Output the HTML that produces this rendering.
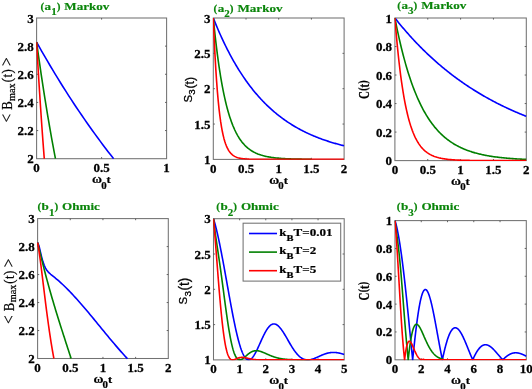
<!DOCTYPE html>
<html><head><meta charset="utf-8"><title>figure</title>
<style>
html,body{margin:0;padding:0;background:#fff;}
svg{display:block}
text{font-family:"Liberation Serif",serif;font-weight:bold;}
</style></head><body>
<svg width="532" height="389" viewBox="0 0 532 389">
<rect width="532" height="389" fill="#fff"/>
<clipPath id="ax1"><rect x="36.25" y="17.65" width="130.70" height="141.40"/></clipPath>
<clipPath id="ax2"><rect x="212.95" y="17.65" width="131.50" height="142.10"/></clipPath>
<clipPath id="ax3"><rect x="394.55" y="17.65" width="132.10" height="143.30"/></clipPath>
<clipPath id="ax4"><rect x="37.25" y="218.25" width="131.40" height="140.60"/></clipPath>
<clipPath id="ax5"><rect x="213.15" y="218.35" width="131.40" height="141.90"/></clipPath>
<clipPath id="ax6"><rect x="394.65" y="220.25" width="132.00" height="139.90"/></clipPath>
<rect x="36.60" y="18.00" width="130.00" height="140.70" fill="none" stroke="#727272" stroke-width="1.05"/>
<path d="M101.60 158.70v-1.6M101.60 18.00v1.6M36.60 130.56h1.6M166.60 130.56h-1.6M36.60 102.42h1.6M166.60 102.42h-1.6M36.60 74.28h1.6M166.60 74.28h-1.6M36.60 46.14h1.6M166.60 46.14h-1.6" stroke="#555" stroke-width="0.9" fill="none"/>
<rect x="213.30" y="18.00" width="130.80" height="141.40" fill="none" stroke="#727272" stroke-width="1.05"/>
<path d="M246.00 159.40v-1.6M246.00 18.00v1.6M278.70 159.40v-1.6M278.70 18.00v1.6M311.40 159.40v-1.6M311.40 18.00v1.6M213.30 124.05h1.6M344.10 124.05h-1.6M213.30 88.70h1.6M344.10 88.70h-1.6M213.30 53.35h1.6M344.10 53.35h-1.6" stroke="#555" stroke-width="0.9" fill="none"/>
<rect x="394.90" y="18.00" width="131.40" height="142.60" fill="none" stroke="#727272" stroke-width="1.05"/>
<path d="M427.75 160.60v-1.6M427.75 18.00v1.6M460.60 160.60v-1.6M460.60 18.00v1.6M493.45 160.60v-1.6M493.45 18.00v1.6M394.90 132.08h1.6M526.30 132.08h-1.6M394.90 103.56h1.6M526.30 103.56h-1.6M394.90 75.04h1.6M526.30 75.04h-1.6M394.90 46.52h1.6M526.30 46.52h-1.6" stroke="#555" stroke-width="0.9" fill="none"/>
<rect x="37.60" y="218.60" width="130.70" height="139.90" fill="none" stroke="#727272" stroke-width="1.05"/>
<path d="M70.28 358.50v-1.6M70.28 218.60v1.6M102.95 358.50v-1.6M102.95 218.60v1.6M135.62 358.50v-1.6M135.62 218.60v1.6M37.60 330.52h1.6M168.30 330.52h-1.6M37.60 302.54h1.6M168.30 302.54h-1.6M37.60 274.56h1.6M168.30 274.56h-1.6M37.60 246.58h1.6M168.30 246.58h-1.6" stroke="#555" stroke-width="0.9" fill="none"/>
<rect x="213.50" y="218.70" width="130.70" height="141.20" fill="none" stroke="#727272" stroke-width="1.05"/>
<path d="M239.64 359.90v-1.6M239.64 218.70v1.6M265.78 359.90v-1.6M265.78 218.70v1.6M291.92 359.90v-1.6M291.92 218.70v1.6M318.06 359.90v-1.6M318.06 218.70v1.6M213.50 324.60h1.6M344.20 324.60h-1.6M213.50 289.30h1.6M344.20 289.30h-1.6M213.50 254.00h1.6M344.20 254.00h-1.6" stroke="#555" stroke-width="0.9" fill="none"/>
<rect x="395.00" y="220.60" width="131.30" height="139.20" fill="none" stroke="#727272" stroke-width="1.05"/>
<path d="M421.26 359.80v-1.6M421.26 220.60v1.6M447.52 359.80v-1.6M447.52 220.60v1.6M473.78 359.80v-1.6M473.78 220.60v1.6M500.04 359.80v-1.6M500.04 220.60v1.6M395.00 331.96h1.6M526.30 331.96h-1.6M395.00 304.12h1.6M526.30 304.12h-1.6M395.00 276.28h1.6M526.30 276.28h-1.6M395.00 248.44h1.6M526.30 248.44h-1.6" stroke="#555" stroke-width="0.9" fill="none"/>
<polyline points="36.60,42.14 39.26,46.87 41.91,51.54 44.57,56.16 47.22,60.72 49.88,65.22 52.53,69.68 55.19,74.08 57.85,78.43 60.50,82.72 63.16,86.97 65.81,91.16 68.47,95.31 71.12,99.40 73.78,103.45 76.44,107.45 79.09,111.40 81.75,115.31 84.40,119.17 87.06,122.98 89.71,126.75 92.37,130.47 95.03,134.15 97.68,137.78 100.34,141.37 102.99,144.92 105.65,148.43 108.30,151.89 110.96,155.32 113.62,158.70" fill="none" stroke="#0000ff" stroke-width="1.6" stroke-linejoin="round" clip-path="url(#ax1)"/>
<polyline points="36.60,42.14 37.25,46.87 37.90,51.54 38.55,56.16 39.20,60.72 39.85,65.22 40.50,69.68 41.15,74.08 41.80,78.43 42.45,82.72 43.10,86.97 43.75,91.16 44.41,95.31 45.06,99.40 45.71,103.45 46.36,107.45 47.01,111.40 47.66,115.31 48.31,119.17 48.96,122.98 49.61,126.75 50.26,130.47 50.91,134.15 51.56,137.78 52.21,141.37 52.86,144.92 53.51,148.43 54.16,151.89 54.81,155.32 55.46,158.70" fill="none" stroke="#008000" stroke-width="1.6" stroke-linejoin="round" clip-path="url(#ax1)"/>
<polyline points="36.60,42.14 36.86,46.87 37.13,51.54 37.39,56.16 37.66,60.72 37.92,65.22 38.19,69.68 38.45,74.08 38.72,78.43 38.98,82.72 39.25,86.97 39.51,91.16 39.78,95.31 40.04,99.40 40.31,103.45 40.57,107.45 40.84,111.40 41.10,115.31 41.36,119.17 41.63,122.98 41.89,126.75 42.16,130.47 42.42,134.15 42.69,137.78 42.95,141.37 43.22,144.92 43.48,148.43 43.75,151.89 44.01,155.32 44.28,158.70" fill="none" stroke="#ff0000" stroke-width="1.6" stroke-linejoin="round" clip-path="url(#ax1)"/>
<polyline points="213.30,18.00 214.12,20.07 214.95,22.10 215.77,24.11 216.59,26.08 217.41,28.03 218.24,29.95 219.06,31.84 219.88,33.71 220.70,35.54 221.53,37.35 222.35,39.13 223.17,40.89 223.99,42.62 224.82,44.33 225.64,46.01 226.46,47.67 227.28,49.30 228.11,50.91 228.93,52.49 229.75,54.05 230.58,55.59 231.40,57.11 232.22,58.60 233.04,60.08 233.87,61.53 234.69,62.96 235.51,64.37 236.33,65.75 237.16,67.12 237.98,68.47 238.80,69.80 239.62,71.11 240.45,72.40 241.27,73.67 242.09,74.92 242.92,76.16 243.74,77.37 244.56,78.57 245.38,79.75 246.21,80.91 247.03,82.06 247.85,83.19 248.67,84.30 249.50,85.40 250.32,86.48 251.14,87.55 251.96,88.60 252.79,89.63 253.61,90.65 254.43,91.66 255.25,92.65 256.08,93.62 256.90,94.58 257.72,95.53 258.55,96.46 259.37,97.38 260.19,98.29 261.01,99.18 261.84,100.06 262.66,100.93 263.48,101.78 264.30,102.62 265.13,103.45 265.95,104.27 266.77,105.07 267.59,105.87 268.42,106.65 269.24,107.42 270.06,108.18 270.88,108.93 271.71,109.67 272.53,110.39 273.35,111.11 274.18,111.81 275.00,112.51 275.82,113.19 276.64,113.87 277.47,114.53 278.29,115.19 279.11,115.84 279.93,116.47 280.76,117.10 281.58,117.72 282.40,118.33 283.22,118.93 284.05,119.52 284.87,120.10 285.69,120.67 286.52,121.24 287.34,121.80 288.16,122.35 288.98,122.89 289.81,123.42 290.63,123.95 291.45,124.47 292.27,124.98 293.10,125.48 293.92,125.97 294.74,126.46 295.56,126.94 296.39,127.42 297.21,127.89 298.03,128.35 298.85,128.80 299.68,129.25 300.50,129.69 301.32,130.12 302.15,130.55 302.97,130.97 303.79,131.39 304.61,131.79 305.44,132.20 306.26,132.60 307.08,132.99 307.90,133.37 308.73,133.75 309.55,134.13 310.37,134.50 311.19,134.86 312.02,135.22 312.84,135.57 313.66,135.92 314.48,136.26 315.31,136.60 316.13,136.93 316.95,137.26 317.78,137.59 318.60,137.91 319.42,138.22 320.24,138.53 321.07,138.83 321.89,139.13 322.71,139.43 323.53,139.72 324.36,140.01 325.18,140.29 326.00,140.57 326.82,140.85 327.65,141.12 328.47,141.38 329.29,141.65 330.12,141.91 330.94,142.16 331.76,142.41 332.58,142.66 333.41,142.91 334.23,143.15 335.05,143.39 335.87,143.62 336.70,143.85 337.52,144.08 338.34,144.30 339.16,144.52 339.99,144.74 340.81,144.95 341.63,145.16 342.45,145.37 343.28,145.58 344.10,145.78" fill="none" stroke="#0000ff" stroke-width="1.6" stroke-linejoin="round" clip-path="url(#ax2)"/>
<polyline points="213.30,18.00 214.12,26.25 214.95,34.01 215.77,41.32 216.59,48.21 217.41,54.70 218.24,60.80 219.06,66.55 219.88,71.97 220.70,77.07 221.53,81.87 222.35,86.39 223.17,90.65 223.99,94.66 224.82,98.43 225.64,101.99 226.46,105.34 227.28,108.49 228.11,111.46 228.93,114.25 229.75,116.89 230.58,119.37 231.40,121.70 232.22,123.90 233.04,125.97 233.87,127.92 234.69,129.76 235.51,131.48 236.33,133.11 237.16,134.65 237.98,136.09 238.80,137.45 239.62,138.73 240.45,139.93 241.27,141.07 242.09,142.14 242.92,143.15 243.74,144.09 244.56,144.99 245.38,145.83 246.21,146.62 247.03,147.36 247.85,148.07 248.67,148.73 249.50,149.35 250.32,149.94 251.14,150.49 251.96,151.01 252.79,151.50 253.61,151.96 254.43,152.39 255.25,152.80 256.08,153.19 256.90,153.55 257.72,153.89 258.55,154.21 259.37,154.51 260.19,154.80 261.01,155.07 261.84,155.32 262.66,155.56 263.48,155.78 264.30,155.99 265.13,156.19 265.95,156.38 266.77,156.55 267.59,156.72 268.42,156.88 269.24,157.02 270.06,157.16 270.88,157.29 271.71,157.42 272.53,157.53 273.35,157.64 274.18,157.74 275.00,157.84 275.82,157.93 276.64,158.02 277.47,158.10 278.29,158.17 279.11,158.24 279.93,158.31 280.76,158.38 281.58,158.44 282.40,158.49 283.22,158.54 284.05,158.59 284.87,158.64 285.69,158.69 286.52,158.73 287.34,158.77 288.16,158.80 288.98,158.84 289.81,158.87 290.63,158.90 291.45,158.93 292.27,158.96 293.10,158.98 293.92,159.01 294.74,159.03 295.56,159.05 296.39,159.07 297.21,159.09 298.03,159.11 298.85,159.13 299.68,159.14 300.50,159.16 301.32,159.17 302.15,159.19 302.97,159.20 303.79,159.21 304.61,159.22 305.44,159.23 306.26,159.24 307.08,159.25 307.90,159.26 308.73,159.27 309.55,159.27 310.37,159.28 311.19,159.29" fill="none" stroke="#008000" stroke-width="1.6" stroke-linejoin="round" clip-path="url(#ax2)"/>
<polyline points="213.30,18.00 214.12,37.41 214.95,54.16 215.77,68.60 216.59,81.07 217.41,91.82 218.24,101.10 219.06,109.10 219.88,116.01 220.70,121.96 221.53,127.10 222.35,131.54 223.17,135.36 223.99,138.66 224.82,141.51 225.64,143.96 226.46,146.08 227.28,147.91 228.11,149.49 228.93,150.85 229.75,152.02 230.58,153.04 231.40,153.91 232.22,154.66 233.04,155.31 233.87,155.87 234.69,156.36 235.51,156.78 236.33,157.14 237.16,157.45 237.98,157.71 238.80,157.95 239.62,158.15 240.45,158.32 241.27,158.47 242.09,158.59 242.92,158.71 243.74,158.80 244.56,158.88 245.38,158.95 246.21,159.02 247.03,159.07 247.85,159.11 248.67,159.15 249.50,159.19 250.32,159.22 251.14,159.24 251.96,159.26 252.79,159.28 253.61,159.30 254.43,159.31 255.25,159.32 256.08,159.33 256.90,159.34 257.72,159.35 258.55,159.36 259.37,159.36 260.19,159.37 261.01,159.37 261.84,159.38 262.66,159.38 263.48,159.38 264.30,159.39 265.13,159.39 265.95,159.39 266.77,159.39 267.59,159.39 268.42,159.39 269.24,159.39 270.06,159.39 270.88,159.40 271.71,159.40 272.53,159.40 273.35,159.40 274.18,159.40 275.00,159.40 275.82,159.40 276.64,159.40 277.47,159.40 278.29,159.40 279.11,159.40 279.93,159.40 280.76,159.40 281.58,159.40 282.40,159.40 283.22,159.40 284.05,159.40 284.87,159.40 285.69,159.40 286.52,159.40 287.34,159.40 288.16,159.40 288.98,159.40 289.81,159.40 290.63,159.40 291.45,159.40 292.27,159.40 293.10,159.40 293.92,159.40 294.74,159.40 295.56,159.40 296.39,159.40 297.21,159.40 298.03,159.40 298.85,159.40 299.68,159.40 300.50,159.40 301.32,159.40 302.15,159.40 302.97,159.40 303.79,159.40 304.61,159.40 305.44,159.40 306.26,159.40 307.08,159.40 307.90,159.40 308.73,159.40 309.55,159.40 310.37,159.40 311.19,159.40 312.02,159.40 312.84,159.40 313.66,159.40 314.48,159.40 315.31,159.40 316.13,159.40 316.95,159.40 317.78,159.40 318.60,159.40 319.42,159.40 320.24,159.40 321.07,159.40 321.89,159.40 322.71,159.40 323.53,159.40 324.36,159.40 325.18,159.40 326.00,159.40 326.82,159.40 327.65,159.40 328.47,159.40 329.29,159.40 330.12,159.40 330.94,159.40 331.76,159.40 332.58,159.40 333.41,159.40 334.23,159.40 335.05,159.40 335.87,159.40 336.70,159.40 337.52,159.40 338.34,159.40 339.16,159.40 339.99,159.40 340.81,159.40 341.63,159.40 342.45,159.40 343.28,159.40 344.10,159.40" fill="none" stroke="#ff0000" stroke-width="1.6" stroke-linejoin="round" clip-path="url(#ax2)"/>
<polyline points="394.90,18.00 395.73,19.05 396.55,20.08 397.38,21.11 398.21,22.14 399.03,23.15 399.86,24.16 400.68,25.16 401.51,26.15 402.34,27.14 403.16,28.12 403.99,29.09 404.82,30.05 405.64,31.01 406.47,31.96 407.30,32.90 408.12,33.84 408.95,34.77 409.78,35.69 410.60,36.61 411.43,37.52 412.25,38.42 413.08,39.31 413.91,40.20 414.73,41.09 415.56,41.96 416.39,42.83 417.21,43.69 418.04,44.55 418.87,45.40 419.69,46.25 420.52,47.09 421.35,47.92 422.17,48.74 423.00,49.56 423.82,50.38 424.65,51.19 425.48,51.99 426.30,52.78 427.13,53.58 427.96,54.36 428.78,55.14 429.61,55.91 430.44,56.68 431.26,57.44 432.09,58.20 432.92,58.95 433.74,59.69 434.57,60.43 435.39,61.17 436.22,61.90 437.05,62.62 437.87,63.34 438.70,64.05 439.53,64.76 440.35,65.46 441.18,66.16 442.01,66.85 442.83,67.54 443.66,68.22 444.48,68.90 445.31,69.57 446.14,70.24 446.96,70.90 447.79,71.56 448.62,72.21 449.44,72.86 450.27,73.50 451.10,74.14 451.92,74.78 452.75,75.40 453.58,76.03 454.40,76.65 455.23,77.26 456.05,77.88 456.88,78.48 457.71,79.08 458.53,79.68 459.36,80.27 460.19,80.86 461.01,81.45 461.84,82.03 462.67,82.60 463.49,83.18 464.32,83.74 465.15,84.31 465.97,84.87 466.80,85.42 467.62,85.97 468.45,86.52 469.28,87.06 470.10,87.60 470.93,88.14 471.76,88.67 472.58,89.20 473.41,89.72 474.24,90.24 475.06,90.76 475.89,91.27 476.72,91.78 477.54,92.28 478.37,92.78 479.19,93.28 480.02,93.77 480.85,94.26 481.67,94.75 482.50,95.23 483.33,95.71 484.15,96.19 484.98,96.66 485.81,97.13 486.63,97.59 487.46,98.05 488.28,98.51 489.11,98.97 489.94,99.42 490.76,99.87 491.59,100.31 492.42,100.76 493.24,101.19 494.07,101.63 494.90,102.06 495.72,102.49 496.55,102.92 497.38,103.34 498.20,103.76 499.03,104.18 499.85,104.59 500.68,105.00 501.51,105.41 502.33,105.81 503.16,106.22 503.99,106.61 504.81,107.01 505.64,107.40 506.47,107.79 507.29,108.18 508.12,108.56 508.95,108.95 509.77,109.32 510.60,109.70 511.42,110.07 512.25,110.44 513.08,110.81 513.90,111.18 514.73,111.54 515.56,111.90 516.38,112.26 517.21,112.61 518.04,112.96 518.86,113.31 519.69,113.66 520.52,114.00 521.34,114.34 522.17,114.68 522.99,115.02 523.82,115.35 524.65,115.69 525.47,116.01 526.30,116.34" fill="none" stroke="#0000ff" stroke-width="1.6" stroke-linejoin="round" clip-path="url(#ax3)"/>
<polyline points="394.90,18.00 395.73,22.22 396.55,26.32 397.38,30.29 398.21,34.15 399.03,37.89 399.86,41.52 400.68,45.05 401.51,48.47 402.34,51.79 403.16,55.01 403.99,58.13 404.82,61.16 405.64,64.11 406.47,66.96 407.30,69.74 408.12,72.42 408.95,75.03 409.78,77.57 410.60,80.02 411.43,82.41 412.25,84.72 413.08,86.97 413.91,89.15 414.73,91.26 415.56,93.32 416.39,95.31 417.21,97.24 418.04,99.11 418.87,100.93 419.69,102.70 420.52,104.41 421.35,106.08 422.17,107.69 423.00,109.26 423.82,110.78 424.65,112.25 425.48,113.68 426.30,115.07 427.13,116.42 427.96,117.73 428.78,119.00 429.61,120.23 430.44,121.42 431.26,122.58 432.09,123.71 432.92,124.80 433.74,125.86 434.57,126.89 435.39,127.88 436.22,128.85 437.05,129.79 437.87,130.70 438.70,131.59 439.53,132.45 440.35,133.28 441.18,134.09 442.01,134.87 442.83,135.64 443.66,136.37 444.48,137.09 445.31,137.79 446.14,138.46 446.96,139.12 447.79,139.75 448.62,140.37 449.44,140.97 450.27,141.55 451.10,142.11 451.92,142.66 452.75,143.19 453.58,143.71 454.40,144.21 455.23,144.69 456.05,145.16 456.88,145.62 457.71,146.06 458.53,146.49 459.36,146.91 460.19,147.32 461.01,147.71 461.84,148.09 462.67,148.46 463.49,148.82 464.32,149.17 465.15,149.51 465.97,149.84 466.80,150.15 467.62,150.46 468.45,150.76 469.28,151.05 470.10,151.34 470.93,151.61 471.76,151.88 472.58,152.14 473.41,152.39 474.24,152.63 475.06,152.87 475.89,153.09 476.72,153.32 477.54,153.53 478.37,153.74 479.19,153.94 480.02,154.14 480.85,154.33 481.67,154.52 482.50,154.70 483.33,154.87 484.15,155.04 484.98,155.21 485.81,155.37 486.63,155.52 487.46,155.67 488.28,155.82 489.11,155.96 489.94,156.10 490.76,156.23 491.59,156.36 492.42,156.48 493.24,156.61 494.07,156.72 494.90,156.84 495.72,156.95 496.55,157.06 497.38,157.16 498.20,157.27 499.03,157.36 499.85,157.46 500.68,157.55 501.51,157.64 502.33,157.73 503.16,157.82 503.99,157.90 504.81,157.98 505.64,158.06 506.47,158.13 507.29,158.20 508.12,158.27 508.95,158.34 509.77,158.41 510.60,158.47 511.42,158.54 512.25,158.60 513.08,158.66 513.90,158.72 514.73,158.77 515.56,158.83 516.38,158.88 517.21,158.93 518.04,158.98 518.86,159.03 519.69,159.07 520.52,159.12 521.34,159.16 522.17,159.20 522.99,159.25 523.82,159.29 524.65,159.32 525.47,159.36 526.30,159.40" fill="none" stroke="#008000" stroke-width="1.6" stroke-linejoin="round" clip-path="url(#ax3)"/>
<polyline points="394.90,18.00 395.73,28.15 396.55,37.58 397.38,46.33 398.21,54.46 399.03,62.02 399.86,69.03 400.68,75.55 401.51,81.60 402.34,87.23 403.16,92.45 403.99,97.30 404.82,101.80 405.64,105.99 406.47,109.87 407.30,113.48 408.12,116.84 408.95,119.95 409.78,122.85 410.60,125.53 411.43,128.03 412.25,130.35 413.08,132.50 413.91,134.50 414.73,136.36 415.56,138.08 416.39,139.69 417.21,141.17 418.04,142.56 418.87,143.84 419.69,145.03 420.52,146.14 421.35,147.17 422.17,148.13 423.00,149.01 423.82,149.84 424.65,150.60 425.48,151.32 426.30,151.98 427.13,152.59 427.96,153.16 428.78,153.69 429.61,154.18 430.44,154.64 431.26,155.06 432.09,155.46 432.92,155.82 433.74,156.16 434.57,156.48 435.39,156.77 436.22,157.04 437.05,157.30 437.87,157.53 438.70,157.75 439.53,157.95 440.35,158.14 441.18,158.32 442.01,158.48 442.83,158.63 443.66,158.77 444.48,158.90 445.31,159.02 446.14,159.13 446.96,159.24 447.79,159.34 448.62,159.43 449.44,159.51 450.27,159.59 451.10,159.66 451.92,159.73 452.75,159.79 453.58,159.85 454.40,159.90 455.23,159.95 456.05,160.00 456.88,160.04 457.71,160.08 458.53,160.12 459.36,160.15 460.19,160.18 461.01,160.21 461.84,160.24 462.67,160.27 463.49,160.29 464.32,160.31 465.15,160.33 465.97,160.35 466.80,160.37 467.62,160.38 468.45,160.40 469.28,160.41 470.10,160.43 470.93,160.44 471.76,160.45 472.58,160.46 473.41,160.47 474.24,160.48 475.06,160.49 475.89,160.50 476.72,160.50 477.54,160.51 478.37,160.52 479.19,160.52 480.02,160.53 480.85,160.53 481.67,160.54 482.50,160.54 483.33,160.55 484.15,160.55 484.98,160.55 485.81,160.56 486.63,160.56 487.46,160.56 488.28,160.57 489.11,160.57 489.94,160.57 490.76,160.57 491.59,160.57 492.42,160.58 493.24,160.58 494.07,160.58 494.90,160.58 495.72,160.58 496.55,160.58 497.38,160.58 498.20,160.59 499.03,160.59 499.85,160.59 500.68,160.59 501.51,160.59 502.33,160.59 503.16,160.59 503.99,160.59 504.81,160.59 505.64,160.59 506.47,160.59 507.29,160.59 508.12,160.59 508.95,160.59 509.77,160.60 510.60,160.60 511.42,160.60 512.25,160.60 513.08,160.60 513.90,160.60 514.73,160.60 515.56,160.60 516.38,160.60 517.21,160.60 518.04,160.60 518.86,160.60 519.69,160.60 520.52,160.60 521.34,160.60 522.17,160.60 522.99,160.60 523.82,160.60 524.65,160.60 525.47,160.60 526.30,160.60" fill="none" stroke="#ff0000" stroke-width="1.6" stroke-linejoin="round" clip-path="url(#ax3)"/>
<polyline points="395.00,220.61 395.22,221.32 395.44,222.06 395.66,222.83 395.88,223.64 396.09,224.49 396.31,225.37 396.53,226.28 396.75,227.22 396.97,228.20 397.19,229.21 397.41,230.25 397.63,231.33 397.84,232.43 398.06,233.57 398.28,234.73 398.50,235.93 398.72,237.15 398.94,238.41 399.16,239.70 399.38,241.01 399.60,242.35 399.81,243.73 400.03,245.13 400.25,246.55 400.47,248.01 400.69,249.50 400.91,251.01 401.13,252.55 401.35,254.11 401.56,255.71 401.78,257.33 402.00,258.97 402.22,260.64 402.44,262.34 402.66,264.07 402.88,265.81 403.10,267.59 403.32,269.38 403.53,271.20 403.75,273.05 403.97,274.92 404.19,276.81 404.41,278.72 404.63,280.65 404.85,282.61 405.07,284.59 405.29,286.58 405.50,288.60 405.72,290.63 405.94,292.68 406.16,294.75 406.38,296.84 406.60,298.94 406.82,301.06 407.04,303.19 407.25,305.34 407.47,307.50 407.69,309.67 407.91,311.85 408.13,314.04 408.35,316.24 408.57,318.44 408.79,320.66 409.01,322.88 409.22,325.11 409.44,327.34 409.66,329.57 409.88,331.80 410.10,334.04 410.32,336.27 410.54,338.50 410.76,340.73 410.97,342.95 411.19,345.17 411.41,347.39 411.63,349.59 411.85,351.79 412.07,353.98 412.29,356.15 412.51,358.31 412.66,359.80 412.73,359.14 412.94,357.00 413.16,354.89 413.38,352.78 413.60,350.70 413.82,348.64 414.04,346.60 414.26,344.58 414.48,342.58 414.69,340.61 414.91,338.66 415.13,336.74 415.35,334.85 415.57,332.98 415.79,331.14 416.01,329.34 416.23,327.56 416.45,325.82 416.66,324.11 416.88,322.44 417.10,320.80 417.32,319.20 417.54,317.63 417.76,316.10 417.98,314.61 418.20,313.16 418.42,311.75 418.63,310.37 418.85,309.04 419.07,307.75 419.29,306.50 419.51,305.30 419.73,304.13 419.95,303.01 420.17,301.94 420.38,300.90 420.60,299.91 420.82,298.97 421.04,298.07 421.26,297.22 421.48,296.41 421.70,295.65 421.92,294.93 422.14,294.25 422.35,293.63 422.57,293.05 422.79,292.51 423.01,292.02 423.23,291.57 423.45,291.17 423.67,290.82 423.89,290.50 424.10,290.24 424.32,290.01 424.54,289.83 424.76,289.70 424.98,289.60 425.20,289.55 425.42,289.55 425.64,289.58 425.86,289.65 426.07,289.77 426.29,289.93 426.51,290.12 426.73,290.36 426.95,290.63 427.17,290.94 427.39,291.29 427.61,291.67 427.82,292.09 428.04,292.55 428.26,293.04 428.48,293.56 428.70,294.12 428.92,294.71 429.14,295.33 429.36,295.98 429.58,296.66 429.79,297.37 430.01,298.11 430.23,298.87 430.45,299.66 430.67,300.48 430.89,301.32 431.11,302.19 431.33,303.08 431.55,303.99 431.76,304.93 431.98,305.88 432.20,306.86 432.42,307.85 432.64,308.86 432.86,309.89 433.08,310.94 433.30,312.00 433.51,313.07 433.73,314.16 433.95,315.27 434.17,316.38 434.39,317.51 434.61,318.64 434.83,319.79 435.05,320.94 435.27,322.11 435.48,323.28 435.70,324.45 435.92,325.64 436.14,326.83 436.36,328.02 436.58,329.21 436.80,330.41 437.02,331.61 437.23,332.81 437.45,334.01 437.67,335.22 437.89,336.42 438.11,337.62 438.33,338.81 438.55,340.01 438.77,341.20 438.99,342.38 439.20,343.57 439.42,344.74 439.64,345.91 439.86,347.08 440.08,348.23 440.30,349.38 440.52,350.53 440.74,351.66 440.95,352.78 441.17,353.90 441.39,355.00 441.61,356.09 441.83,357.18 442.05,358.25 442.27,359.31 442.37,359.80 442.49,359.25 442.71,358.21 442.92,357.19 443.14,356.19 443.36,355.19 443.58,354.22 443.80,353.25 444.02,352.30 444.24,351.37 444.46,350.45 444.68,349.55 444.89,348.66 445.11,347.79 445.33,346.94 445.55,346.10 445.77,345.28 445.99,344.48 446.21,343.70 446.43,342.93 446.64,342.18 446.86,341.45 447.08,340.74 447.30,340.05 447.52,339.37 447.74,338.71 447.96,338.08 448.18,337.46 448.40,336.86 448.61,336.28 448.83,335.72 449.05,335.17 449.27,334.65 449.49,334.15 449.71,333.66 449.93,333.20 450.15,332.75 450.36,332.33 450.58,331.92 450.80,331.53 451.02,331.17 451.24,330.82 451.46,330.49 451.68,330.18 451.90,329.89 452.12,329.62 452.33,329.37 452.55,329.13 452.77,328.92 452.99,328.72 453.21,328.55 453.43,328.39 453.65,328.25 453.87,328.13 454.08,328.02 454.30,327.94 454.52,327.87 454.74,327.82 454.96,327.79 455.18,327.78 455.40,327.78 455.62,327.80 455.84,327.84 456.05,327.89 456.27,327.96 456.49,328.05 456.71,328.15 456.93,328.27 457.15,328.40 457.37,328.55 457.59,328.71 457.81,328.89 458.02,329.08 458.24,329.29 458.46,329.51 458.68,329.75 458.90,330.00 459.12,330.26 459.34,330.54 459.56,330.82 459.77,331.13 459.99,331.44 460.21,331.76 460.43,332.10 460.65,332.45 460.87,332.81 461.09,333.18 461.31,333.56 461.53,333.95 461.74,334.35 461.96,334.75 462.18,335.17 462.40,335.60 462.62,336.04 462.84,336.48 463.06,336.93 463.28,337.39 463.49,337.86 463.71,338.33 463.93,338.81 464.15,339.30 464.37,339.79 464.59,340.29 464.81,340.79 465.03,341.30 465.25,341.81 465.46,342.33 465.68,342.85 465.90,343.37 466.12,343.90 466.34,344.43 466.56,344.96 466.78,345.50 467.00,346.04 467.21,346.58 467.43,347.12 467.65,347.66 467.87,348.20 468.09,348.74 468.31,349.29 468.53,349.83 468.75,350.38 468.97,350.92 469.18,351.46 469.40,352.00 469.62,352.54 469.84,353.08 470.06,353.61 470.28,354.14 470.50,354.67 470.72,355.20 470.94,355.72 471.15,356.24 471.37,356.76 471.59,357.27 471.81,357.78 472.03,358.29 472.25,358.79 472.47,359.28 472.69,359.77 472.70,359.80 472.90,359.34 473.12,358.86 473.34,358.39 473.56,357.92 473.78,357.46 474.00,357.01 474.22,356.56 474.44,356.11 474.66,355.68 474.87,355.25 475.09,354.83 475.31,354.42 475.53,354.01 475.75,353.61 475.97,353.22 476.19,352.84 476.41,352.46 476.62,352.09 476.84,351.73 477.06,351.38 477.28,351.04 477.50,350.71 477.72,350.38 477.94,350.07 478.16,349.76 478.38,349.46 478.59,349.17 478.81,348.89 479.03,348.62 479.25,348.36 479.47,348.10 479.69,347.86 479.91,347.63 480.13,347.40 480.34,347.18 480.56,346.98 480.78,346.78 481.00,346.59 481.22,346.41 481.44,346.24 481.66,346.08 481.88,345.93 482.10,345.79 482.31,345.66 482.53,345.53 482.75,345.42 482.97,345.32 483.19,345.22 483.41,345.13 483.63,345.06 483.85,344.99 484.07,344.93 484.28,344.88 484.50,344.83 484.72,344.80 484.94,344.78 485.16,344.76 485.38,344.75 485.60,344.75 485.82,344.76 486.03,344.78 486.25,344.80 486.47,344.83 486.69,344.88 486.91,344.92 487.13,344.98 487.35,345.04 487.57,345.11 487.79,345.19 488.00,345.28 488.22,345.37 488.44,345.47 488.66,345.58 488.88,345.69 489.10,345.81 489.32,345.93 489.54,346.07 489.75,346.20 489.97,346.35 490.19,346.50 490.41,346.65 490.63,346.81 490.85,346.98 491.07,347.15 491.29,347.33 491.51,347.51 491.72,347.69 491.94,347.88 492.16,348.08 492.38,348.28 492.60,348.48 492.82,348.69 493.04,348.90 493.26,349.11 493.47,349.33 493.69,349.55 493.91,349.78 494.13,350.00 494.35,350.23 494.57,350.47 494.79,350.70 495.01,350.94 495.23,351.18 495.44,351.42 495.66,351.67 495.88,351.91 496.10,352.16 496.32,352.41 496.54,352.66 496.76,352.91 496.98,353.16 497.20,353.41 497.41,353.67 497.63,353.92 497.85,354.18 498.07,354.43 498.29,354.69 498.51,354.94 498.73,355.20 498.95,355.45 499.16,355.70 499.38,355.96 499.60,356.21 499.82,356.46 500.04,356.71 500.26,356.96 500.48,357.21 500.70,357.46 500.92,357.71 501.13,357.95 501.35,358.19 501.57,358.43 501.79,358.67 502.01,358.91 502.23,359.14 502.45,359.38 502.67,359.61 502.85,359.80 502.88,359.77 503.10,359.54 503.32,359.32 503.54,359.10 503.76,358.88 503.98,358.67 504.20,358.46 504.42,358.25 504.64,358.04 504.85,357.84 505.07,357.64 505.29,357.45 505.51,357.26 505.73,357.07 505.95,356.88 506.17,356.70 506.39,356.52 506.60,356.35 506.82,356.18 507.04,356.02 507.26,355.85 507.48,355.70 507.70,355.54 507.92,355.39 508.14,355.24 508.36,355.10 508.57,354.96 508.79,354.83 509.01,354.70 509.23,354.58 509.45,354.46 509.67,354.34 509.89,354.23 510.11,354.12 510.33,354.01 510.54,353.91 510.76,353.82 510.98,353.73 511.20,353.64 511.42,353.56 511.64,353.48 511.86,353.41 512.08,353.34 512.29,353.27 512.51,353.21 512.73,353.15 512.95,353.10 513.17,353.05 513.39,353.01 513.61,352.97 513.83,352.93 514.05,352.90 514.26,352.87 514.48,352.85 514.70,352.83 514.92,352.81 515.14,352.80 515.36,352.80 515.58,352.79 515.80,352.79 516.01,352.80 516.23,352.80 516.45,352.82 516.67,352.83 516.89,352.85 517.11,352.87 517.33,352.90 517.55,352.93 517.77,352.96 517.98,353.00 518.20,353.04 518.42,353.08 518.64,353.13 518.86,353.18 519.08,353.23 519.30,353.28 519.52,353.34 519.73,353.40 519.95,353.47 520.17,353.53 520.39,353.60 520.61,353.68 520.83,353.75 521.05,353.83 521.27,353.91 521.49,353.99 521.70,354.07 521.92,354.16 522.14,354.25 522.36,354.34 522.58,354.43 522.80,354.52 523.02,354.62 523.24,354.72 523.46,354.82 523.67,354.92 523.89,355.02 524.11,355.13 524.33,355.23 524.55,355.34 524.77,355.45 524.99,355.56 525.21,355.67 525.42,355.78 525.64,355.89 525.86,356.01 526.08,356.12 526.30,356.24" fill="none" stroke="#0000ff" stroke-width="1.6" stroke-linejoin="round" clip-path="url(#ax6)"/>
<polyline points="213.50,218.73 213.94,220.15 214.37,221.64 214.81,223.20 215.24,224.81 215.68,226.48 216.11,228.21 216.55,229.99 216.99,231.82 217.42,233.70 217.86,235.63 218.29,237.61 218.73,239.62 219.16,241.68 219.60,243.78 220.03,245.92 220.47,248.09 220.91,250.29 221.34,252.52 221.78,254.78 222.21,257.07 222.65,259.38 223.08,261.72 223.52,264.07 223.96,266.45 224.39,268.84 224.83,271.24 225.26,273.65 225.70,276.08 226.13,278.51 226.57,280.94 227.01,283.38 227.44,285.82 227.88,288.25 228.31,290.69 228.75,293.11 229.18,295.53 229.62,297.93 230.06,300.33 230.49,302.70 230.93,305.06 231.36,307.39 231.80,309.71 232.23,311.99 232.67,314.25 233.10,316.48 233.54,318.67 233.98,320.83 234.41,322.96 234.85,325.04 235.28,327.07 235.72,329.07 236.15,331.01 236.59,332.91 237.03,334.76 237.46,336.55 237.90,338.29 238.33,339.96 238.77,341.58 239.20,343.14 239.64,344.64 240.08,346.07 240.51,347.44 240.95,348.74 241.38,349.97 241.82,351.13 242.25,352.22 242.69,353.24 243.13,354.19 243.56,355.06 244.00,355.87 244.43,356.59 244.87,357.25 245.30,357.83 245.74,358.34 246.18,358.78 246.61,359.14 247.05,359.43 247.48,359.65 247.92,359.80 248.35,359.88 248.65,359.90 248.79,359.90 249.22,359.84 249.66,359.72 250.10,359.54 250.53,359.30 250.97,358.99 251.40,358.63 251.84,358.21 252.27,357.74 252.71,357.22 253.15,356.64 253.58,356.02 254.02,355.36 254.45,354.66 254.89,353.92 255.32,353.14 255.76,352.33 256.20,351.49 256.63,350.62 257.07,349.73 257.50,348.82 257.94,347.89 258.37,346.94 258.81,345.98 259.25,345.02 259.68,344.05 260.12,343.07 260.55,342.10 260.99,341.12 261.42,340.16 261.86,339.20 262.29,338.25 262.73,337.32 263.17,336.40 263.60,335.50 264.04,334.62 264.47,333.77 264.91,332.94 265.34,332.13 265.78,331.36 266.22,330.62 266.65,329.91 267.09,329.23 267.52,328.59 267.96,327.99 268.39,327.43 268.83,326.90 269.27,326.42 269.70,325.98 270.14,325.58 270.57,325.22 271.01,324.91 271.44,324.64 271.88,324.41 272.31,324.23 272.75,324.09 273.19,323.99 273.62,323.94 274.06,323.93 274.49,323.97 274.93,324.04 275.36,324.16 275.80,324.32 276.24,324.52 276.67,324.76 277.11,325.03 277.54,325.35 277.98,325.69 278.41,326.08 278.85,326.49 279.29,326.94 279.72,327.42 280.16,327.93 280.59,328.46 281.03,329.02 281.46,329.61 281.90,330.22 282.34,330.85 282.77,331.50 283.21,332.16 283.64,332.85 284.08,333.55 284.51,334.26 284.95,334.98 285.38,335.72 285.82,336.46 286.26,337.21 286.69,337.96 287.13,338.72 287.56,339.48 288.00,340.23 288.43,340.99 288.87,341.75 289.31,342.50 289.74,343.25 290.18,343.99 290.61,344.72 291.05,345.45 291.48,346.16 291.92,346.87 292.36,347.56 292.79,348.23 293.23,348.90 293.66,349.55 294.10,350.18 294.53,350.80 294.97,351.40 295.41,351.98 295.84,352.54 296.28,353.08 296.71,353.61 297.15,354.11 297.58,354.59 298.02,355.05 298.45,355.50 298.89,355.92 299.33,356.31 299.76,356.69 300.20,357.05 300.63,357.38 301.07,357.69 301.50,357.98 301.94,358.25 302.38,358.49 302.81,358.72 303.25,358.93 303.68,359.11 304.12,359.27 304.55,359.42 304.99,359.54 305.43,359.65 305.86,359.73 306.30,359.80 306.73,359.85 307.17,359.88 307.60,359.90 307.81,359.90 308.04,359.90 308.48,359.88 308.91,359.85 309.35,359.80 309.78,359.75 310.22,359.67 310.65,359.59 311.09,359.49 311.52,359.38 311.96,359.26 312.40,359.13 312.83,359.00 313.27,358.85 313.70,358.69 314.14,358.53 314.57,358.36 315.01,358.19 315.45,358.01 315.88,357.83 316.32,357.64 316.75,357.45 317.19,357.25 317.62,357.06 318.06,356.86 318.50,356.66 318.93,356.46 319.37,356.26 319.80,356.06 320.24,355.87 320.67,355.67 321.11,355.48 321.55,355.29 321.98,355.10 322.42,354.92 322.85,354.74 323.29,354.57 323.72,354.40 324.16,354.24 324.59,354.08 325.03,353.93 325.47,353.78 325.90,353.64 326.34,353.51 326.77,353.38 327.21,353.26 327.64,353.15 328.08,353.05 328.52,352.95 328.95,352.86 329.39,352.78 329.82,352.71 330.26,352.65 330.69,352.59 331.13,352.54 331.57,352.50 332.00,352.47 332.44,352.45 332.87,352.43 333.31,352.43 333.74,352.43 334.18,352.44 334.62,352.45 335.05,352.48 335.49,352.51 335.92,352.55 336.36,352.60 336.79,352.65 337.23,352.71 337.66,352.78 338.10,352.86 338.54,352.94 338.97,353.02 339.41,353.12 339.84,353.22 340.28,353.32 340.71,353.43 341.15,353.54 341.59,353.66 342.02,353.78 342.46,353.91 342.89,354.04 343.33,354.17 343.76,354.31 344.20,354.45" fill="none" stroke="#0000ff" stroke-width="1.6" stroke-linejoin="round" clip-path="url(#ax5)"/>
<polyline points="395.00,220.58 395.22,222.53 395.44,224.38 395.66,226.14 395.88,227.83 396.09,229.48 396.31,231.09 396.53,232.69 396.75,234.28 396.97,235.88 397.19,237.50 397.41,239.15 397.63,240.84 397.84,242.56 398.06,244.33 398.28,246.16 398.50,248.04 398.72,249.98 398.94,251.98 399.16,254.04 399.38,256.17 399.60,258.35 399.81,260.60 400.03,262.90 400.25,265.27 400.47,267.69 400.69,270.16 400.91,272.68 401.13,275.25 401.35,277.87 401.56,280.52 401.78,283.21 402.00,285.93 402.22,288.68 402.44,291.45 402.66,294.24 402.88,297.05 403.10,299.87 403.32,302.70 403.53,305.52 403.75,308.35 403.97,311.17 404.19,313.98 404.41,316.78 404.63,319.56 404.85,322.32 405.07,325.06 405.29,327.76 405.50,330.44 405.72,333.08 405.94,335.69 406.16,338.25 406.38,340.77 406.60,343.25 406.82,345.68 407.04,348.06 407.25,350.39 407.47,352.66 407.69,354.88 407.91,357.05 408.13,359.16 408.20,359.80 408.35,358.40 408.57,356.41 408.79,354.48 409.01,352.62 409.22,350.82 409.44,349.08 409.66,347.40 409.88,345.79 410.10,344.24 410.32,342.75 410.54,341.33 410.76,339.97 410.97,338.67 411.19,337.44 411.41,336.26 411.63,335.15 411.85,334.10 412.07,333.11 412.29,332.18 412.51,331.31 412.73,330.49 412.94,329.73 413.16,329.03 413.38,328.38 413.60,327.78 413.82,327.23 414.04,326.74 414.26,326.29 414.48,325.90 414.69,325.55 414.91,325.24 415.13,324.98 415.35,324.76 415.57,324.59 415.79,324.45 416.01,324.35 416.23,324.29 416.45,324.27 416.66,324.28 416.88,324.32 417.10,324.40 417.32,324.50 417.54,324.64 417.76,324.80 417.98,324.99 418.20,325.21 418.42,325.45 418.63,325.71 418.85,326.00 419.07,326.30 419.29,326.63 419.51,326.97 419.73,327.33 419.95,327.71 420.17,328.10 420.38,328.50 420.60,328.92 420.82,329.34 421.04,329.78 421.26,330.23 421.48,330.69 421.70,331.16 421.92,331.63 422.14,332.11 422.35,332.59 422.57,333.08 422.79,333.57 423.01,334.07 423.23,334.57 423.45,335.07 423.67,335.57 423.89,336.07 424.10,336.58 424.32,337.08 424.54,337.58 424.76,338.08 424.98,338.58 425.20,339.07 425.42,339.57 425.64,340.05 425.86,340.54 426.07,341.02 426.29,341.50 426.51,341.97 426.73,342.44 426.95,342.90 427.17,343.35 427.39,343.81 427.61,344.25 427.82,344.69 428.04,345.12 428.26,345.54 428.48,345.96 428.70,346.37 428.92,346.78 429.14,347.17 429.36,347.56 429.58,347.95 429.79,348.32 430.01,348.69 430.23,349.05 430.45,349.40 430.67,349.75 430.89,350.09 431.11,350.42 431.33,350.74 431.55,351.06 431.76,351.36 431.98,351.66 432.20,351.96 432.42,352.24 432.64,352.52 432.86,352.79 433.08,353.06 433.30,353.31 433.51,353.56 433.73,353.81 433.95,354.04 434.17,354.27 434.39,354.49 434.61,354.71 434.83,354.92 435.05,355.12 435.27,355.32 435.48,355.51 435.70,355.69 435.92,355.87 436.14,356.04 436.36,356.21 436.58,356.37 436.80,356.53 437.02,356.68 437.23,356.83 437.45,356.97 437.67,357.10 437.89,357.23 438.11,357.36 438.33,357.48 438.55,357.59 438.77,357.71 438.99,357.81 439.20,357.92 439.42,358.02 439.64,358.11 439.86,358.20 440.08,358.29 440.30,358.37 440.52,358.46 440.74,358.53 440.95,358.61 441.17,358.68 441.39,358.74 441.61,358.81 441.83,358.87 442.05,358.93 442.27,358.99 442.49,359.04 442.71,359.09 442.92,359.14 443.14,359.18 443.36,359.23 443.58,359.27" fill="none" stroke="#008000" stroke-width="1.6" stroke-linejoin="round" clip-path="url(#ax6)"/>
<polyline points="213.50,218.66 213.94,222.59 214.37,226.26 214.81,229.71 215.24,232.99 215.68,236.13 216.11,239.18 216.55,242.16 216.99,245.09 217.42,248.00 217.86,250.91 218.29,253.83 218.73,256.77 219.16,259.74 219.60,262.75 220.03,265.79 220.47,268.88 220.91,272.02 221.34,275.19 221.78,278.40 222.21,281.64 222.65,284.90 223.08,288.19 223.52,291.48 223.96,294.78 224.39,298.07 224.83,301.35 225.26,304.60 225.70,307.81 226.13,310.98 226.57,314.10 227.01,317.15 227.44,320.14 227.88,323.04 228.31,325.86 228.75,328.58 229.18,331.21 229.62,333.73 230.06,336.14 230.49,338.43 230.93,340.61 231.36,342.67 231.80,344.60 232.23,346.41 232.67,348.10 233.10,349.66 233.54,351.10 233.98,352.42 234.41,353.62 234.85,354.70 235.28,355.66 235.72,356.52 236.15,357.26 236.59,357.90 237.03,358.45 237.46,358.90 237.90,359.25 238.33,359.53 238.77,359.72 239.20,359.84 239.64,359.90 239.78,359.90 240.08,359.89 240.51,359.82 240.95,359.69 241.38,359.52 241.82,359.31 242.25,359.06 242.69,358.78 243.13,358.47 243.56,358.13 244.00,357.78 244.43,357.41 244.87,357.03 245.30,356.65 245.74,356.26 246.18,355.86 246.61,355.47 247.05,355.09 247.48,354.71 247.92,354.34 248.35,353.98 248.79,353.64 249.22,353.31 249.66,353.00 250.10,352.70 250.53,352.43 250.97,352.17 251.40,351.93 251.84,351.72 252.27,351.52 252.71,351.35 253.15,351.20 253.58,351.06 254.02,350.95 254.45,350.86 254.89,350.79 255.32,350.74 255.76,350.71 256.20,350.70 256.63,350.71 257.07,350.73 257.50,350.77 257.94,350.82 258.37,350.89 258.81,350.98 259.25,351.07 259.68,351.18 260.12,351.30 260.55,351.43 260.99,351.57 261.42,351.72 261.86,351.88 262.29,352.05 262.73,352.22 263.17,352.39 263.60,352.58 264.04,352.76 264.47,352.95 264.91,353.14 265.34,353.33 265.78,353.53 266.22,353.72 266.65,353.92 267.09,354.12 267.52,354.31 267.96,354.51 268.39,354.70 268.83,354.89 269.27,355.08 269.70,355.26 270.14,355.44 270.57,355.62 271.01,355.80 271.44,355.97 271.88,356.14 272.31,356.30 272.75,356.46 273.19,356.62 273.62,356.77 274.06,356.92 274.49,357.06 274.93,357.20 275.36,357.33 275.80,357.46 276.24,357.58 276.67,357.70 277.11,357.82 277.54,357.93 277.98,358.04 278.41,358.14 278.85,358.24 279.29,358.33 279.72,358.42 280.16,358.50 280.59,358.59 281.03,358.66 281.46,358.74 281.90,358.81 282.34,358.88 282.77,358.94 283.21,359.00 283.64,359.06 284.08,359.11 284.51,359.16 284.95,359.21 285.38,359.26 285.82,359.30 286.26,359.34 286.69,359.38 287.13,359.42 287.56,359.45 288.00,359.48 288.43,359.51 288.87,359.54 289.31,359.57 289.74,359.59 290.18,359.62 290.61,359.64 291.05,359.66 291.48,359.68 291.92,359.69 292.36,359.71 292.79,359.73 293.23,359.74 293.66,359.75 294.10,359.77 294.53,359.78 294.97,359.79 295.41,359.80 295.84,359.81 296.28,359.81 296.71,359.82 297.15,359.83 297.58,359.84 298.02,359.84 298.45,359.85 298.89,359.85 299.33,359.86 299.76,359.86 300.20,359.86 300.63,359.87 301.07,359.87 301.50,359.87 301.94,359.88 302.38,359.88 302.81,359.88 303.25,359.88 303.68,359.89 304.12,359.89 304.55,359.89 304.99,359.89 305.43,359.89 305.86,359.89 306.30,359.89 306.73,359.89 307.17,359.89 307.60,359.90 308.04,359.90 308.48,359.90 308.91,359.90 309.35,359.90 309.78,359.90 310.22,359.90" fill="none" stroke="#008000" stroke-width="1.6" stroke-linejoin="round" clip-path="url(#ax5)"/>
<polyline points="395.00,220.61 395.22,223.11 395.44,225.75 395.66,228.52 395.88,231.42 396.09,234.43 396.31,237.55 396.53,240.77 396.75,244.08 396.97,247.48 397.19,250.96 397.41,254.50 397.63,258.10 397.84,261.75 398.06,265.44 398.28,269.17 398.50,272.92 398.72,276.69 398.94,280.46 399.16,284.24 399.38,288.00 399.60,291.75 399.81,295.48 400.03,299.17 400.25,302.83 400.47,306.45 400.69,310.01 400.91,313.52 401.13,316.96 401.35,320.34 401.56,323.64 401.78,326.87 402.00,330.01 402.22,333.07 402.44,336.03 402.66,338.90 402.88,341.68 403.10,344.36 403.32,346.93 403.53,349.40 403.75,351.77 403.97,354.03 404.19,356.19 404.41,358.24 404.59,359.80 404.63,359.42 404.85,357.59 405.07,355.86 405.29,354.25 405.50,352.73 405.72,351.32 405.94,350.02 406.16,348.81 406.38,347.71 406.60,346.70 406.82,345.78 407.04,344.96 407.25,344.23 407.47,343.59 407.69,343.03 407.91,342.55 408.13,342.15 408.35,341.83 408.57,341.58 408.79,341.39 409.01,341.27 409.22,341.22 409.44,341.22 409.66,341.28 409.88,341.39 410.10,341.55 410.32,341.75 410.54,341.99 410.76,342.28 410.97,342.60 411.19,342.95 411.41,343.33 411.63,343.73 411.85,344.16 412.07,344.61 412.29,345.08 412.51,345.56 412.73,346.06 412.94,346.56 413.16,347.07 413.38,347.59 413.60,348.11 413.82,348.63 414.04,349.15 414.26,349.67 414.48,350.19 414.69,350.70 414.91,351.20 415.13,351.69 415.35,352.18 415.57,352.65 415.79,353.11 416.01,353.56 416.23,354.00 416.45,354.42 416.66,354.83 416.88,355.22 417.10,355.60 417.32,355.96 417.54,356.30 417.76,356.63 417.98,356.94 418.20,357.24 418.42,357.52 418.63,357.78 418.85,358.03 419.07,358.26 419.29,358.47 419.51,358.68 419.73,358.86 419.95,359.03 420.17,359.19 420.38,359.33 420.60,359.46 420.82,359.58 421.04,359.69 421.26,359.78 421.31,359.80 421.48,359.74 421.70,359.66 421.92,359.60 422.14,359.55 422.35,359.50 422.57,359.47 422.79,359.44 423.01,359.42 423.23,359.40 423.45,359.39 423.67,359.39 423.89,359.39 424.10,359.80 424.32,359.80 424.54,359.80 424.76,359.80 424.98,359.80 425.20,359.80 425.42,359.80 425.64,359.80 425.86,359.80 426.07,359.80 426.29,359.80 426.51,359.80 426.73,359.80 426.95,359.80 427.17,359.80 427.39,359.80 427.61,359.80 427.82,359.80 427.90,359.80 428.04,359.80 428.26,359.80 428.48,359.80 428.70,359.80 428.92,359.80 429.14,359.80 429.36,359.80 429.58,359.80 429.79,359.80 430.01,359.80 430.23,359.80 430.45,359.80 430.67,359.80 430.89,359.80 431.11,359.80 431.33,359.80 431.55,359.80 431.76,359.80 431.98,359.80 432.20,359.80 432.42,359.80 432.64,359.80 432.86,359.80 433.08,359.80 433.30,359.80 433.51,359.80 433.73,359.80 433.95,359.80 434.17,359.80 434.36,359.80 434.39,359.80 434.61,359.80 434.83,359.80 435.05,359.80 435.27,359.80 435.48,359.80 435.70,359.80 435.92,359.80 436.14,359.80 436.36,359.80 436.58,359.80 436.80,359.80 437.02,359.80 437.23,359.80 437.45,359.80 437.67,359.80 437.89,359.80 438.11,359.80 438.33,359.80 438.55,359.80 438.77,359.80 438.99,359.80 439.20,359.80 439.42,359.80 439.64,359.80 439.86,359.80 440.08,359.80 440.30,359.80 440.52,359.80 440.74,359.80 440.95,359.80 441.17,359.80 441.39,359.80 441.61,359.80 441.83,359.80 442.05,359.80 442.27,359.80 442.49,359.80 442.71,359.80 442.92,359.80 443.14,359.80 443.36,359.80 443.58,359.80 443.80,359.80 444.02,359.80 444.24,359.80 444.46,359.80 444.68,359.80 444.89,359.80 445.11,359.80 445.33,359.80 445.55,359.80 445.77,359.80 445.99,359.80 446.21,359.80 446.43,359.80 446.64,359.80 446.86,359.80 447.08,359.80 447.30,359.80 447.52,359.80 447.74,359.80 447.96,359.80 448.18,359.80 448.40,359.80 448.61,359.80 448.83,359.80 449.05,359.80 449.27,359.80 449.49,359.80 449.71,359.80 449.82,359.80 449.93,359.80 450.15,359.80 450.36,359.80 450.58,359.80 450.80,359.80 451.02,359.80 451.24,359.80 451.46,359.80 451.68,359.80 451.90,359.80 452.12,359.80 452.33,359.80 452.55,359.80 452.77,359.80 452.99,359.80 453.21,359.80 453.43,359.80 453.65,359.80 453.87,359.80 454.08,359.80 454.30,359.80 454.52,359.80 454.74,359.80 454.96,359.80 455.18,359.80 455.40,359.80 455.62,359.80 455.84,359.80 456.05,359.80 456.27,359.80 456.49,359.80 456.71,359.80 456.93,359.80 457.15,359.80 457.37,359.80 457.59,359.80 457.81,359.80 458.02,359.80 458.24,359.80 458.46,359.80 458.68,359.80 458.90,359.80 459.12,359.80 459.34,359.80 459.56,359.80 459.77,359.80 459.99,359.80 460.21,359.80 460.43,359.80 460.65,359.80 460.87,359.80 461.09,359.80 461.31,359.80 461.53,359.80 461.74,359.80 461.96,359.80 462.18,359.80 462.40,359.80 462.62,359.80 462.84,359.80 463.06,359.80 463.28,359.80 463.49,359.80 463.65,359.80 463.71,359.80 463.93,359.80 464.15,359.80 464.37,359.80 464.59,359.80 464.81,359.80 465.03,359.80 465.25,359.80 465.46,359.80 465.68,359.80 465.90,359.80 466.12,359.80 466.34,359.80 466.56,359.80 466.78,359.80 467.00,359.80 467.21,359.80 467.43,359.80 467.65,359.80 467.87,359.80 468.09,359.80 468.31,359.80 468.53,359.80 468.75,359.80 468.97,359.80 469.18,359.80 469.40,359.80 469.62,359.80 469.84,359.80 470.06,359.80 470.28,359.80 470.50,359.80 470.72,359.80 470.94,359.80 471.15,359.80 471.37,359.80 471.59,359.80 471.81,359.80 472.03,359.80 472.25,359.80 472.47,359.80 472.69,359.80 472.90,359.80 473.12,359.80 473.34,359.80 473.56,359.80 473.78,359.80 473.89,359.80 474.00,359.80 474.22,359.80 474.44,359.80 474.66,359.80 474.87,359.80 475.09,359.80 475.31,359.80 475.53,359.80 475.75,359.80 475.97,359.80 476.19,359.80 476.41,359.80 476.62,359.80 476.84,359.80 477.06,359.80 477.28,359.80 477.50,359.80 477.72,359.80 477.94,359.80 478.16,359.80 478.38,359.80 478.59,359.80 478.81,359.80 479.03,359.80 479.25,359.80 479.47,359.80 479.69,359.80 479.91,359.80 480.13,359.80 480.34,359.80 480.56,359.80 480.78,359.80 481.00,359.80 481.22,359.80 481.44,359.80 481.66,359.80 481.88,359.80 482.10,359.80 482.31,359.80 482.53,359.80 482.75,359.80 482.97,359.80 482.99,359.80 483.19,359.80 483.41,359.80 483.63,359.80 483.85,359.80 484.07,359.80 484.28,359.80 484.50,359.80 484.72,359.80 484.94,359.80 485.16,359.80 485.38,359.80 485.60,359.80 485.82,359.80 486.03,359.80 486.25,359.80 486.47,359.80 486.69,359.80 486.91,359.80 487.13,359.80 487.35,359.80 487.57,359.80 487.79,359.80 488.00,359.80 488.22,359.80 488.44,359.80 488.66,359.80 488.88,359.80 489.10,359.80 489.32,359.80 489.54,359.80 489.75,359.80 489.97,359.80 490.19,359.80 490.41,359.80 490.63,359.80 490.85,359.80 491.07,359.80 491.29,359.80 491.51,359.80 491.72,359.80 491.94,359.80 492.16,359.80 492.38,359.80 492.60,359.80 492.82,359.80 493.04,359.80 493.26,359.80 493.47,359.80 493.69,359.80 493.91,359.80 494.13,359.80 494.35,359.80 494.57,359.80 494.79,359.80 495.01,359.80 495.23,359.80 495.44,359.80 495.51,359.80 495.66,359.80 495.88,359.80 496.10,359.80 496.32,359.80 496.54,359.80 496.76,359.80 496.98,359.80 497.20,359.80 497.41,359.80 497.63,359.80 497.85,359.80 498.07,359.80 498.29,359.80 498.51,359.80 498.73,359.80 498.95,359.80 499.16,359.80 499.38,359.80 499.60,359.80 499.82,359.80 500.04,359.80 500.26,359.80 500.48,359.80 500.70,359.80 500.92,359.80 501.13,359.80 501.35,359.80 501.57,359.80 501.79,359.80 502.01,359.80 502.23,359.80 502.45,359.80 502.67,359.80 502.88,359.80 503.10,359.80 503.32,359.80 503.54,359.80 503.76,359.80 503.98,359.80 504.20,359.80 504.42,359.80 504.64,359.80 504.85,359.80 505.07,359.80 505.29,359.80 505.51,359.80 505.73,359.80 505.95,359.80 506.17,359.80 506.39,359.80 506.60,359.80 506.82,359.80 507.04,359.80 507.26,359.80 507.48,359.80 507.70,359.80 507.92,359.80 508.14,359.80 508.19,359.80 508.36,359.80 508.57,359.80 508.79,359.80 509.01,359.80 509.23,359.80 509.45,359.80 509.67,359.80 509.89,359.80 510.11,359.80 510.33,359.80 510.54,359.80 510.76,359.80 510.98,359.80 511.20,359.80 511.42,359.80 511.64,359.80 511.86,359.80 512.08,359.80 512.29,359.80 512.51,359.80 512.73,359.80 512.95,359.80 513.17,359.80 513.39,359.80 513.61,359.80 513.83,359.80 514.05,359.80 514.26,359.80 514.48,359.80 514.70,359.80 514.92,359.80 515.14,359.80 515.36,359.80 515.58,359.80 515.80,359.80 516.01,359.80 516.23,359.80 516.45,359.80 516.67,359.80 516.89,359.80 517.11,359.80 517.33,359.80 517.55,359.80 517.77,359.80 517.98,359.80 518.20,359.80 518.42,359.80 518.64,359.80 518.86,359.80 519.08,359.80 519.30,359.80 519.36,359.80 519.52,359.80 519.73,359.80 519.95,359.80 520.17,359.80 520.39,359.80 520.61,359.80 520.83,359.80 521.05,359.80 521.27,359.80 521.49,359.80 521.70,359.80 521.92,359.80 522.14,359.80 522.36,359.80 522.58,359.80 522.80,359.80 523.02,359.80 523.24,359.80 523.46,359.80 523.67,359.80 523.89,359.80 524.11,359.80 524.33,359.80 524.55,359.80 524.77,359.80 524.99,359.80 525.21,359.80 525.42,359.80 525.64,359.80 525.86,359.80 526.08,359.80 526.30,359.80" fill="none" stroke="#ff0000" stroke-width="1.6" stroke-linejoin="round" clip-path="url(#ax6)"/>
<polyline points="213.50,218.73 213.94,223.75 214.37,228.96 214.81,234.31 215.24,239.79 215.68,245.36 216.11,250.99 216.55,256.65 216.99,262.32 217.42,267.97 217.86,273.57 218.29,279.10 218.73,284.53 219.16,289.84 219.60,295.02 220.03,300.04 220.47,304.90 220.91,309.56 221.34,314.03 221.78,318.29 222.21,322.33 222.65,326.16 223.08,329.75 223.52,333.12 223.96,336.25 224.39,339.16 224.83,341.84 225.26,344.29 225.70,346.53 226.13,348.55 226.57,350.37 227.01,352.00 227.44,353.43 227.88,354.69 228.31,355.78 228.75,356.72 229.18,357.51 229.62,358.16 230.06,358.69 230.49,359.11 230.93,359.43 231.36,359.66 231.80,359.80 232.23,359.88 232.58,359.90 232.67,359.90 233.10,359.86 233.54,359.79 233.98,359.68 234.41,359.54 234.85,359.38 235.28,359.20 235.72,359.02 236.15,358.83 236.59,358.65 237.03,358.47 237.46,358.30 237.90,358.13 238.33,357.98 238.77,357.85 239.20,357.73 239.64,357.63 240.08,357.55 240.51,357.48 240.95,357.43 241.38,357.40 241.82,357.38 242.25,357.38 242.69,357.40 243.13,357.43 243.56,357.47 244.00,357.53 244.43,357.59 244.87,357.66 245.30,357.74 245.74,357.83 246.18,357.92 246.61,358.02 247.05,358.12 247.48,358.22 247.92,358.32 248.35,358.42 248.79,358.52 249.22,358.62 249.66,358.72 250.10,358.81 250.53,358.90 250.97,358.99 251.40,359.07 251.84,359.15 252.27,359.23 252.71,359.30 253.15,359.36 253.58,359.42 254.02,359.48 254.45,359.53 254.89,359.57 255.32,359.62 255.76,359.65 256.20,359.69 256.63,359.72 257.07,359.75 257.50,359.77 257.94,359.79 258.37,359.81 258.81,359.83 259.25,359.84 259.68,359.85 260.12,359.86 260.55,359.87 260.99,359.88 261.42,359.88 261.86,359.89 262.29,359.89 262.73,359.89 263.17,359.90 263.60,359.90 264.04,359.90 264.47,359.90 264.91,359.90 265.34,359.90 265.78,359.90 265.88,359.90 266.22,359.90 266.65,359.90 267.09,359.90 267.52,359.90 267.96,359.90 268.39,359.90 268.83,359.90 269.27,359.90 269.70,359.90 270.14,359.90 270.57,359.90 271.01,359.90 271.44,359.90 271.88,359.90 272.31,359.90 272.75,359.90 273.19,359.90 273.62,359.90 274.06,359.90 274.49,359.90 274.93,359.90 275.36,359.90 275.80,359.90 276.24,359.90 276.67,359.90 277.11,359.90 277.54,359.90 277.98,359.90 278.41,359.90 278.85,359.90 278.99,359.90 279.29,359.90 279.72,359.90 280.16,359.90 280.59,359.90 281.03,359.90 281.46,359.90 281.90,359.90 282.34,359.90 282.77,359.90 283.21,359.90 283.64,359.90 284.08,359.90 284.51,359.90 284.95,359.90 285.38,359.90 285.82,359.90 286.26,359.90 286.69,359.90 287.13,359.90 287.56,359.90 288.00,359.90 288.43,359.90 288.87,359.90 289.31,359.90 289.74,359.90 290.18,359.90 290.61,359.90 291.05,359.90 291.48,359.90 291.86,359.90 291.92,359.90 292.36,359.90 292.79,359.90 293.23,359.90 293.66,359.90 294.10,359.90 294.53,359.90 294.97,359.90 295.41,359.90 295.84,359.90 296.28,359.90 296.71,359.90 297.15,359.90 297.58,359.90 298.02,359.90 298.45,359.90 298.89,359.90 299.33,359.90 299.76,359.90 300.20,359.90 300.63,359.90 301.07,359.90 301.50,359.90 301.94,359.90 302.38,359.90 302.81,359.90 303.25,359.90 303.68,359.90 304.12,359.90 304.55,359.90 304.99,359.90 305.43,359.90 305.86,359.90 306.30,359.90 306.73,359.90 307.17,359.90 307.60,359.90 308.04,359.90 308.48,359.90 308.91,359.90 309.35,359.90 309.78,359.90 310.22,359.90 310.65,359.90 311.09,359.90 311.52,359.90 311.96,359.90 312.40,359.90 312.83,359.90 313.27,359.90 313.70,359.90 314.14,359.90 314.57,359.90 315.01,359.90 315.45,359.90 315.88,359.90 316.32,359.90 316.75,359.90 317.19,359.90 317.62,359.90 318.06,359.90 318.50,359.90 318.93,359.90 319.37,359.90 319.80,359.90 320.24,359.90 320.67,359.90 321.11,359.90 321.55,359.90 321.98,359.90 322.42,359.90 322.63,359.90 322.85,359.90 323.29,359.90 323.72,359.90 324.16,359.90 324.59,359.90 325.03,359.90 325.47,359.90 325.90,359.90 326.34,359.90 326.77,359.90 327.21,359.90 327.64,359.90 328.08,359.90 328.52,359.90 328.95,359.90 329.39,359.90 329.82,359.90 330.26,359.90 330.69,359.90 331.13,359.90 331.57,359.90 332.00,359.90 332.44,359.90 332.87,359.90 333.31,359.90 333.74,359.90 334.18,359.90 334.62,359.90 335.05,359.90 335.49,359.90 335.92,359.90 336.36,359.90 336.79,359.90 337.23,359.90 337.66,359.90 338.10,359.90 338.54,359.90 338.97,359.90 339.41,359.90 339.84,359.90 340.28,359.90 340.71,359.90 341.15,359.90 341.59,359.90 342.02,359.90 342.46,359.90 342.89,359.90 343.33,359.90 343.76,359.90 344.20,359.90" fill="none" stroke="#ff0000" stroke-width="1.6" stroke-linejoin="round" clip-path="url(#ax5)"/>
<polyline points="37.70,242.53 39.00,246.00 40.30,251.39 41.60,256.86 42.91,261.59 44.21,265.32 45.51,268.13 46.81,270.22 48.11,271.82 49.41,273.12 50.71,274.26 52.02,275.34 53.32,276.38 54.62,277.44 55.92,278.51 57.22,279.61 58.52,280.73 59.82,281.88 61.13,283.06 62.43,284.27 63.73,285.50 65.03,286.75 66.33,288.03 67.63,289.34 68.93,290.66 70.24,292.01 71.54,293.38 72.84,294.76 74.14,296.17 75.44,297.59 76.74,299.03 78.04,300.49 79.35,301.96 80.65,303.45 81.95,304.94 83.25,306.46 84.55,307.98 85.85,309.51 87.16,311.05 88.46,312.61 89.76,314.16 91.06,315.73 92.36,317.30 93.66,318.88 94.96,320.46 96.27,322.05 97.57,323.64 98.87,325.22 100.17,326.81 101.47,328.40 102.77,329.99 104.07,331.58 105.38,333.16 106.68,334.74 107.98,336.32 109.28,337.89 110.58,339.45 111.88,341.00 113.18,342.55 114.49,344.09 115.79,345.61 117.09,347.13 118.39,348.64 119.69,350.13 120.99,351.60 122.29,353.07 123.60,354.51 124.90,355.95 126.20,357.36 127.50,358.76" fill="none" stroke="#0000ff" stroke-width="1.6" stroke-linejoin="round"/>
<polyline points="37.70,242.60 38.56,246.31 39.41,249.97 40.27,253.57 41.13,257.11 41.98,260.59 42.84,264.02 43.69,267.39 44.55,270.72 45.41,274.00 46.26,277.23 47.12,280.41 47.98,283.55 48.83,286.65 49.69,289.71 50.55,292.74 51.40,295.72 52.26,298.67 53.12,301.59 53.97,304.48 54.83,307.34 55.68,310.17 56.54,312.97 57.40,315.76 58.25,318.52 59.11,321.26 59.97,323.98 60.82,326.68 61.68,329.37 62.54,332.05 63.39,334.72 64.25,337.37 65.11,340.02 65.96,342.66 66.82,345.30 67.67,347.94 68.53,350.58 69.39,353.21 70.24,355.85 71.10,358.50" fill="none" stroke="#008000" stroke-width="1.6" stroke-linejoin="round"/>
<polyline points="37.70,242.60 38.12,245.16 38.53,247.84 38.95,250.64 39.36,253.54 39.78,256.54 40.19,259.62 40.61,262.78 41.02,266.01 41.44,269.29 41.85,272.62 42.27,275.99 42.68,279.38 43.10,282.79 43.52,286.20 43.93,289.62 44.35,293.02 44.76,296.40 45.18,299.75 45.59,303.06 46.01,306.32 46.42,309.55 46.84,312.73 47.25,315.87 47.67,318.96 48.08,322.00 48.50,325.00 48.92,327.94 49.33,330.82 49.75,333.65 50.16,336.42 50.58,339.13 50.99,341.79 51.41,344.37 51.82,346.90 52.24,349.36 52.65,351.75 53.07,354.07 53.48,356.32 53.90,358.50" fill="none" stroke="#ff0000" stroke-width="1.6" stroke-linejoin="round"/>
<text transform="translate(36.60,171.90) scale(1.09,1)" text-anchor="middle" font-size="11.9" fill="#000" stroke="#000" stroke-width="0.25">0</text>
<text transform="translate(101.60,171.90) scale(1.09,1)" text-anchor="middle" font-size="11.9" fill="#000" stroke="#000" stroke-width="0.25">0.5</text>
<text transform="translate(166.60,171.90) scale(1.09,1)" text-anchor="middle" font-size="11.9" fill="#000" stroke="#000" stroke-width="0.25">1</text>
<text transform="translate(33.80,163.20) scale(1.09,1)" text-anchor="end" font-size="11.9" fill="#000" stroke="#000" stroke-width="0.25">2</text>
<text transform="translate(33.80,135.06) scale(1.09,1)" text-anchor="end" font-size="11.9" fill="#000" stroke="#000" stroke-width="0.25">2.2</text>
<text transform="translate(33.80,106.92) scale(1.09,1)" text-anchor="end" font-size="11.9" fill="#000" stroke="#000" stroke-width="0.25">2.4</text>
<text transform="translate(33.80,78.78) scale(1.09,1)" text-anchor="end" font-size="11.9" fill="#000" stroke="#000" stroke-width="0.25">2.6</text>
<text transform="translate(33.80,50.64) scale(1.09,1)" text-anchor="end" font-size="11.9" fill="#000" stroke="#000" stroke-width="0.25">2.8</text>
<text transform="translate(33.80,22.50) scale(1.09,1)" text-anchor="end" font-size="11.9" fill="#000" stroke="#000" stroke-width="0.25">3</text>
<text transform="translate(213.30,172.60) scale(1.09,1)" text-anchor="middle" font-size="11.9" fill="#000" stroke="#000" stroke-width="0.25">0</text>
<text transform="translate(246.00,172.60) scale(1.09,1)" text-anchor="middle" font-size="11.9" fill="#000" stroke="#000" stroke-width="0.25">0.5</text>
<text transform="translate(278.70,172.60) scale(1.09,1)" text-anchor="middle" font-size="11.9" fill="#000" stroke="#000" stroke-width="0.25">1</text>
<text transform="translate(311.40,172.60) scale(1.09,1)" text-anchor="middle" font-size="11.9" fill="#000" stroke="#000" stroke-width="0.25">1.5</text>
<text transform="translate(344.10,172.60) scale(1.09,1)" text-anchor="middle" font-size="11.9" fill="#000" stroke="#000" stroke-width="0.25">2</text>
<text transform="translate(210.50,163.90) scale(1.09,1)" text-anchor="end" font-size="11.9" fill="#000" stroke="#000" stroke-width="0.25">1</text>
<text transform="translate(210.50,128.55) scale(1.09,1)" text-anchor="end" font-size="11.9" fill="#000" stroke="#000" stroke-width="0.25">1.5</text>
<text transform="translate(210.50,93.20) scale(1.09,1)" text-anchor="end" font-size="11.9" fill="#000" stroke="#000" stroke-width="0.25">2</text>
<text transform="translate(210.50,57.85) scale(1.09,1)" text-anchor="end" font-size="11.9" fill="#000" stroke="#000" stroke-width="0.25">2.5</text>
<text transform="translate(210.50,22.50) scale(1.09,1)" text-anchor="end" font-size="11.9" fill="#000" stroke="#000" stroke-width="0.25">3</text>
<text transform="translate(394.90,173.80) scale(1.09,1)" text-anchor="middle" font-size="11.9" fill="#000" stroke="#000" stroke-width="0.25">0</text>
<text transform="translate(427.75,173.80) scale(1.09,1)" text-anchor="middle" font-size="11.9" fill="#000" stroke="#000" stroke-width="0.25">0.5</text>
<text transform="translate(460.60,173.80) scale(1.09,1)" text-anchor="middle" font-size="11.9" fill="#000" stroke="#000" stroke-width="0.25">1</text>
<text transform="translate(493.45,173.80) scale(1.09,1)" text-anchor="middle" font-size="11.9" fill="#000" stroke="#000" stroke-width="0.25">1.5</text>
<text transform="translate(526.30,173.80) scale(1.09,1)" text-anchor="middle" font-size="11.9" fill="#000" stroke="#000" stroke-width="0.25">2</text>
<text transform="translate(392.10,165.10) scale(1.09,1)" text-anchor="end" font-size="11.9" fill="#000" stroke="#000" stroke-width="0.25">0</text>
<text transform="translate(392.10,136.58) scale(1.09,1)" text-anchor="end" font-size="11.9" fill="#000" stroke="#000" stroke-width="0.25">0.2</text>
<text transform="translate(392.10,108.06) scale(1.09,1)" text-anchor="end" font-size="11.9" fill="#000" stroke="#000" stroke-width="0.25">0.4</text>
<text transform="translate(392.10,79.54) scale(1.09,1)" text-anchor="end" font-size="11.9" fill="#000" stroke="#000" stroke-width="0.25">0.6</text>
<text transform="translate(392.10,51.02) scale(1.09,1)" text-anchor="end" font-size="11.9" fill="#000" stroke="#000" stroke-width="0.25">0.8</text>
<text transform="translate(392.10,22.50) scale(1.09,1)" text-anchor="end" font-size="11.9" fill="#000" stroke="#000" stroke-width="0.25">1</text>
<text transform="translate(37.60,371.70) scale(1.09,1)" text-anchor="middle" font-size="11.9" fill="#000" stroke="#000" stroke-width="0.25">0</text>
<text transform="translate(70.28,371.70) scale(1.09,1)" text-anchor="middle" font-size="11.9" fill="#000" stroke="#000" stroke-width="0.25">0.5</text>
<text transform="translate(102.95,371.70) scale(1.09,1)" text-anchor="middle" font-size="11.9" fill="#000" stroke="#000" stroke-width="0.25">1</text>
<text transform="translate(135.62,371.70) scale(1.09,1)" text-anchor="middle" font-size="11.9" fill="#000" stroke="#000" stroke-width="0.25">1.5</text>
<text transform="translate(168.30,371.70) scale(1.09,1)" text-anchor="middle" font-size="11.9" fill="#000" stroke="#000" stroke-width="0.25">2</text>
<text transform="translate(34.80,363.00) scale(1.09,1)" text-anchor="end" font-size="11.9" fill="#000" stroke="#000" stroke-width="0.25">2</text>
<text transform="translate(34.80,335.02) scale(1.09,1)" text-anchor="end" font-size="11.9" fill="#000" stroke="#000" stroke-width="0.25">2.2</text>
<text transform="translate(34.80,307.04) scale(1.09,1)" text-anchor="end" font-size="11.9" fill="#000" stroke="#000" stroke-width="0.25">2.4</text>
<text transform="translate(34.80,279.06) scale(1.09,1)" text-anchor="end" font-size="11.9" fill="#000" stroke="#000" stroke-width="0.25">2.6</text>
<text transform="translate(34.80,251.08) scale(1.09,1)" text-anchor="end" font-size="11.9" fill="#000" stroke="#000" stroke-width="0.25">2.8</text>
<text transform="translate(34.80,223.10) scale(1.09,1)" text-anchor="end" font-size="11.9" fill="#000" stroke="#000" stroke-width="0.25">3</text>
<text transform="translate(213.50,373.10) scale(1.09,1)" text-anchor="middle" font-size="11.9" fill="#000" stroke="#000" stroke-width="0.25">0</text>
<text transform="translate(239.64,373.10) scale(1.09,1)" text-anchor="middle" font-size="11.9" fill="#000" stroke="#000" stroke-width="0.25">1</text>
<text transform="translate(265.78,373.10) scale(1.09,1)" text-anchor="middle" font-size="11.9" fill="#000" stroke="#000" stroke-width="0.25">2</text>
<text transform="translate(291.92,373.10) scale(1.09,1)" text-anchor="middle" font-size="11.9" fill="#000" stroke="#000" stroke-width="0.25">3</text>
<text transform="translate(318.06,373.10) scale(1.09,1)" text-anchor="middle" font-size="11.9" fill="#000" stroke="#000" stroke-width="0.25">4</text>
<text transform="translate(344.20,373.10) scale(1.09,1)" text-anchor="middle" font-size="11.9" fill="#000" stroke="#000" stroke-width="0.25">5</text>
<text transform="translate(210.70,364.40) scale(1.09,1)" text-anchor="end" font-size="11.9" fill="#000" stroke="#000" stroke-width="0.25">1</text>
<text transform="translate(210.70,329.10) scale(1.09,1)" text-anchor="end" font-size="11.9" fill="#000" stroke="#000" stroke-width="0.25">1.5</text>
<text transform="translate(210.70,293.80) scale(1.09,1)" text-anchor="end" font-size="11.9" fill="#000" stroke="#000" stroke-width="0.25">2</text>
<text transform="translate(210.70,258.50) scale(1.09,1)" text-anchor="end" font-size="11.9" fill="#000" stroke="#000" stroke-width="0.25">2.5</text>
<text transform="translate(210.70,223.20) scale(1.09,1)" text-anchor="end" font-size="11.9" fill="#000" stroke="#000" stroke-width="0.25">3</text>
<text transform="translate(395.00,373.00) scale(1.09,1)" text-anchor="middle" font-size="11.9" fill="#000" stroke="#000" stroke-width="0.25">0</text>
<text transform="translate(421.26,373.00) scale(1.09,1)" text-anchor="middle" font-size="11.9" fill="#000" stroke="#000" stroke-width="0.25">2</text>
<text transform="translate(447.52,373.00) scale(1.09,1)" text-anchor="middle" font-size="11.9" fill="#000" stroke="#000" stroke-width="0.25">4</text>
<text transform="translate(473.78,373.00) scale(1.09,1)" text-anchor="middle" font-size="11.9" fill="#000" stroke="#000" stroke-width="0.25">6</text>
<text transform="translate(500.04,373.00) scale(1.09,1)" text-anchor="middle" font-size="11.9" fill="#000" stroke="#000" stroke-width="0.25">8</text>
<text transform="translate(526.30,373.00) scale(1.09,1)" text-anchor="middle" font-size="11.9" fill="#000" stroke="#000" stroke-width="0.25">10</text>
<text transform="translate(392.20,364.30) scale(1.09,1)" text-anchor="end" font-size="11.9" fill="#000" stroke="#000" stroke-width="0.25">0</text>
<text transform="translate(392.20,336.46) scale(1.09,1)" text-anchor="end" font-size="11.9" fill="#000" stroke="#000" stroke-width="0.25">0.2</text>
<text transform="translate(392.20,308.62) scale(1.09,1)" text-anchor="end" font-size="11.9" fill="#000" stroke="#000" stroke-width="0.25">0.4</text>
<text transform="translate(392.20,280.78) scale(1.09,1)" text-anchor="end" font-size="11.9" fill="#000" stroke="#000" stroke-width="0.25">0.6</text>
<text transform="translate(392.20,252.94) scale(1.09,1)" text-anchor="end" font-size="11.9" fill="#000" stroke="#000" stroke-width="0.25">0.8</text>
<text transform="translate(392.20,225.10) scale(1.09,1)" text-anchor="end" font-size="11.9" fill="#000" stroke="#000" stroke-width="0.25">1</text>
<text transform="translate(40.40,9.90) scale(1.18,1)" text-anchor="start" font-size="11.1" fill="#0a850a" stroke="#0a850a" stroke-width="0.15"><tspan font-size="9.5">(</tspan><tspan dx="0.4">a</tspan><tspan dx="0" dy="5.3" font-size="9.32">1</tspan><tspan dy="-5.3" font-size="9.5">)</tspan><tspan dx="0.6"> Markov</tspan></text>
<text transform="translate(213.50,12.10) scale(1.18,1)" text-anchor="start" font-size="11.1" fill="#0a850a" stroke="#0a850a" stroke-width="0.15"><tspan font-size="9.5">(</tspan><tspan dx="0.4">a</tspan><tspan dx="0" dy="5.3" font-size="9.32">2</tspan><tspan dy="-5.3" font-size="9.5">)</tspan><tspan dx="0.6"> Markov</tspan></text>
<text transform="translate(397.30,8.50) scale(1.18,1)" text-anchor="start" font-size="11.1" fill="#0a850a" stroke="#0a850a" stroke-width="0.15"><tspan font-size="9.5">(</tspan><tspan dx="0.4">a</tspan><tspan dx="0" dy="5.3" font-size="9.32">3</tspan><tspan dy="-5.3" font-size="9.5">)</tspan><tspan dx="0.6"> Markov</tspan></text>
<text transform="translate(37.40,210.30) scale(1.18,1)" text-anchor="start" font-size="11.1" fill="#0a850a" stroke="#0a850a" stroke-width="0.15"><tspan font-size="9.5">(</tspan><tspan dx="0.4">b</tspan><tspan dx="0" dy="5.3" font-size="9.32">1</tspan><tspan dy="-5.3" font-size="9.5">)</tspan><tspan dx="0.6"> Ohmic</tspan></text>
<text transform="translate(216.20,210.30) scale(1.18,1)" text-anchor="start" font-size="11.1" fill="#0a850a" stroke="#0a850a" stroke-width="0.15"><tspan font-size="9.5">(</tspan><tspan dx="0.4">b</tspan><tspan dx="0" dy="5.3" font-size="9.32">2</tspan><tspan dy="-5.3" font-size="9.5">)</tspan><tspan dx="0.6"> Ohmic</tspan></text>
<text transform="translate(396.70,210.30) scale(1.18,1)" text-anchor="start" font-size="11.1" fill="#0a850a" stroke="#0a850a" stroke-width="0.15"><tspan font-size="9.5">(</tspan><tspan dx="0.4">b</tspan><tspan dx="0" dy="5.3" font-size="9.32">3</tspan><tspan dy="-5.3" font-size="9.5">)</tspan><tspan dx="0.6"> Ohmic</tspan></text>
<text transform="translate(101.40,183.00) scale(1.12,1)" text-anchor="middle" font-size="11.2" fill="#000" stroke="#000" stroke-width="0.2"><tspan font-size="12.2">&#969;</tspan><tspan dx="-0.8" dy="5.5" font-size="9.74">0</tspan><tspan dy="-5.5" >t</tspan></text>
<text transform="translate(278.50,183.70) scale(1.12,1)" text-anchor="middle" font-size="11.2" fill="#000" stroke="#000" stroke-width="0.2"><tspan font-size="12.2">&#969;</tspan><tspan dx="-0.8" dy="5.5" font-size="9.74">0</tspan><tspan dy="-5.5" >t</tspan></text>
<text transform="translate(460.40,184.90) scale(1.12,1)" text-anchor="middle" font-size="11.2" fill="#000" stroke="#000" stroke-width="0.2"><tspan font-size="12.2">&#969;</tspan><tspan dx="-0.8" dy="5.5" font-size="9.74">0</tspan><tspan dy="-5.5" >t</tspan></text>
<text transform="translate(102.75,382.80) scale(1.12,1)" text-anchor="middle" font-size="11.2" fill="#000" stroke="#000" stroke-width="0.2"><tspan font-size="12.2">&#969;</tspan><tspan dx="-0.8" dy="5.5" font-size="9.74">0</tspan><tspan dy="-5.5" >t</tspan></text>
<text transform="translate(278.65,384.20) scale(1.12,1)" text-anchor="middle" font-size="11.2" fill="#000" stroke="#000" stroke-width="0.2"><tspan font-size="12.2">&#969;</tspan><tspan dx="-0.8" dy="5.5" font-size="9.74">0</tspan><tspan dy="-5.5" >t</tspan></text>
<text transform="translate(460.45,384.10) scale(1.12,1)" text-anchor="middle" font-size="11.2" fill="#000" stroke="#000" stroke-width="0.2"><tspan font-size="12.2">&#969;</tspan><tspan dx="-0.8" dy="5.5" font-size="9.74">0</tspan><tspan dy="-5.5" >t</tspan></text>
<text transform="translate(12.00,89.85) scale(1.1,1) rotate(-90)" text-anchor="middle" font-size="12.8" fill="#000" style="font-weight:normal" stroke="#000" stroke-width="0.2"><tspan font-size="15.5">&lt;</tspan><tspan dx="4.0">B</tspan><tspan dx="0.3" dy="2.6" font-size="10.24">max</tspan><tspan dy="-2.6" dx="1.0" letter-spacing="0.5">(t)</tspan><tspan dx="2.8" font-size="15.5">&gt;</tspan></text>
<text transform="translate(13.60,291.25) scale(1.1,1) rotate(-90)" text-anchor="middle" font-size="12.8" fill="#000" style="font-weight:normal" stroke="#000" stroke-width="0.2"><tspan font-size="15.5">&lt;</tspan><tspan dx="4.0">B</tspan><tspan dx="0.3" dy="2.6" font-size="10.24">max</tspan><tspan dy="-2.6" dx="1.0" letter-spacing="0.5">(t)</tspan><tspan dx="2.8" font-size="15.5">&gt;</tspan></text>
<text transform="translate(191.60,102.60) scale(1.0,1) rotate(-90)" text-anchor="start" font-size="11.4" fill="#000" style="font-weight:normal;font-family:'Liberation Sans',sans-serif" stroke="#000" stroke-width="0.3">S<tspan dx="0.3" dy="3.6" font-size="9.80">3</tspan></text>
<text transform="translate(193.60,88.60) scale(1.1,1) rotate(-90)" text-anchor="start" font-size="12.4" fill="#000" style="font-weight:normal;font-family:'Liberation Sans',sans-serif" stroke="#000" stroke-width="0.25">(t)</text>
<text transform="translate(187.40,304.50) scale(1.0,1) rotate(-90)" text-anchor="start" font-size="11.4" fill="#000" style="font-weight:normal;font-family:'Liberation Sans',sans-serif" stroke="#000" stroke-width="0.3">S<tspan dx="0.3" dy="3.6" font-size="9.80">3</tspan></text>
<text transform="translate(188.80,290.50) scale(1.1,1) rotate(-90)" text-anchor="start" font-size="13.4" fill="#000" style="font-weight:normal;font-family:'Liberation Sans',sans-serif" stroke="#000" stroke-width="0.25">(t)</text>
<text transform="translate(368.50,89.60) scale(1.3,1) rotate(-90)" text-anchor="middle" font-size="10.9" fill="#000" stroke="#000" stroke-width="0.2" letter-spacing="0.25">C<tspan font-size="9.4" dy="-0.9">(</tspan><tspan dy="0.9">t</tspan><tspan font-size="9.4" dy="-0.9">)</tspan></text>
<text transform="translate(368.60,291.00) scale(1.3,1) rotate(-90)" text-anchor="middle" font-size="10.9" fill="#000" stroke="#000" stroke-width="0.2" letter-spacing="0.25">C<tspan font-size="9.4" dy="-0.9">(</tspan><tspan dy="0.9">t</tspan><tspan font-size="9.4" dy="-0.9">)</tspan></text>
<rect x="243.1" y="223.2" width="97.6" height="57.9" fill="#fff" stroke="#727272" stroke-width="1.05"/>
<line x1="249.0" x2="277.0" y1="233.5" y2="233.5" stroke="#0000ff" stroke-width="1.6"/>
<text transform="translate(279.30,235.60) scale(1.2,1)" text-anchor="start" font-size="10.9" fill="#000" stroke="#000" stroke-width="0.2">k<tspan dx="0" dy="5.0" font-size="8.72">B</tspan><tspan dy="-5.0" >T=0.01</tspan></text>
<line x1="249.0" x2="277.0" y1="252.1" y2="252.1" stroke="#008000" stroke-width="1.6"/>
<text transform="translate(279.30,254.20) scale(1.2,1)" text-anchor="start" font-size="10.9" fill="#000" stroke="#000" stroke-width="0.2">k<tspan dx="0" dy="5.0" font-size="8.72">B</tspan><tspan dy="-5.0" >T=2</tspan></text>
<line x1="249.0" x2="277.0" y1="270.7" y2="270.7" stroke="#ff0000" stroke-width="1.6"/>
<text transform="translate(279.30,272.80) scale(1.2,1)" text-anchor="start" font-size="10.9" fill="#000" stroke="#000" stroke-width="0.2">k<tspan dx="0" dy="5.0" font-size="8.72">B</tspan><tspan dy="-5.0" >T=5</tspan></text>
</svg>
</body></html>
